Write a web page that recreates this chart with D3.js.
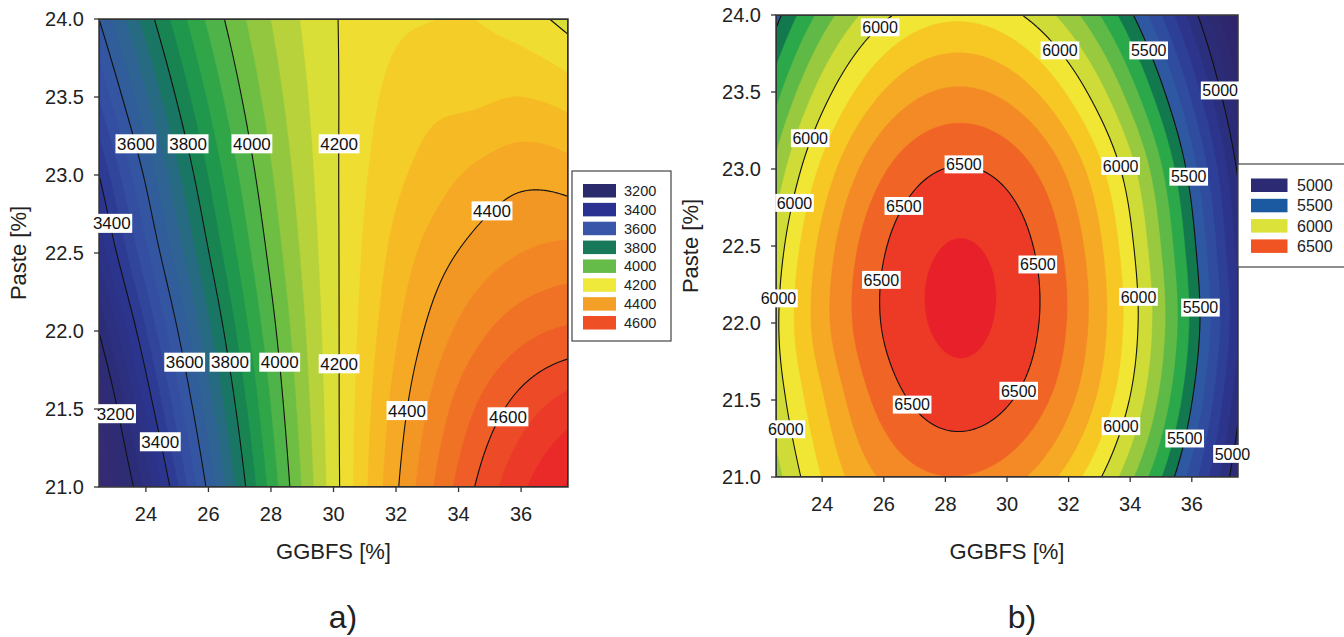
<!DOCTYPE html>
<html><head><meta charset="utf-8">
<script src="https://cdn.jsdelivr.net/npm/d3@7"></script>
<style>html,body{margin:0;padding:0;background:#fff;}svg{display:block;font-family:"Liberation Sans",Arial,Helvetica,sans-serif;}</style>
</head><body>
<svg id="chart" width="1344" height="637"></svg>
<script>
// ---------- data ----------
const ggbfs = [22.5, 24, 25.5, 27, 28.5, 30, 31.5, 33, 34.5, 36, 37.5];
const paste = [21, 21.5, 22, 22.5, 23, 23.5, 24];

// panel a) response, rows = paste (21 -> 24), columns = ggbfs
const strengthA = [
  [3030, 3265, 3530, 3771, 3986, 4177, 4342, 4483, 4599, 4690, 4756],
  [3094, 3358, 3600, 3817, 4011, 4181, 4327, 4450, 4549, 4624, 4676],
  [3202, 3447, 3668, 3864, 4036, 4184, 4307, 4407, 4481, 4532, 4558],
  [3313, 3537, 3737, 3911, 4062, 4187, 4288, 4365, 4417, 4450, 4465],
  [3400, 3611, 3796, 3953, 4085, 4190, 4268, 4320, 4360, 4385, 4375],
  [3503, 3693, 3857, 3995, 4107, 4192, 4251, 4284, 4290, 4300, 4280],
  [3600, 3772, 3917, 4036, 4128, 4195, 4234, 4248, 4250, 4225, 4180]
];
// panel b) response
const strengthB = [
  [5860, 6104, 6276, 6373, 6397, 6345, 6216, 6011, 5718, 5353, 4912],
  [5945, 6188, 6391, 6512, 6553, 6511, 6386, 6178, 5887, 5505, 5030],
  [5981, 6260, 6460, 6580, 6620, 6578, 6452, 6241, 5947, 5575, 5110],
  [5940, 6231, 6440, 6564, 6606, 6563, 6433, 6217, 5915, 5537, 5067],
  [5829, 6125, 6337, 6464, 6506, 6464, 6337, 6125, 5829, 5448, 4983],
  [5662, 5949, 6154, 6276, 6315, 6271, 6145, 5936, 5644, 5274, 4820],
  [5464, 5737, 5930, 6044, 6078, 6032, 5907, 5702, 5417, 5053, 4609]
];

const levelsA = [3200, 3400, 3600, 3800, 4000, 4200, 4400, 4600];
const levelsB = [5000, 5500, 6000, 6500];
const xTicks = [24, 26, 28, 30, 32, 34, 36];
const yTicks = [21, 21.5, 22, 22.5, 23, 23.5, 24];

// contour label anchors: [level, ggbfs, paste]
const labelsA = [
  [3600, 23.68, 23.2], [3800, 25.35, 23.2], [4000, 27.39, 23.2], [4200, 30.18, 23.2],
  [3400, 22.91, 22.69], [4400, 35.07, 22.77],
  [3600, 25.24, 21.8], [3800, 26.69, 21.8], [4000, 28.28, 21.8], [4200, 30.18, 21.79],
  [3200, 23.03, 21.47], [3400, 24.46, 21.29], [4400, 32.35, 21.49], [4600, 35.58, 21.45]
];
const labelsB = [
  [6000, 25.88, 23.92], [6000, 31.72, 23.77], [5500, 34.6, 23.77], [5000, 36.92, 23.51],
  [6000, 23.61, 23.2], [6500, 28.6, 23.03], [6000, 33.69, 23.02], [5500, 35.9, 22.95],
  [6000, 23.1, 22.78], [6500, 26.65, 22.76], [6500, 31.0, 22.38], [6500, 25.92, 22.28],
  [6000, 22.58, 22.16], [6000, 34.27, 22.17], [5500, 36.28, 22.1],
  [6500, 30.38, 21.56], [6500, 26.92, 21.47], [6000, 22.82, 21.31], [6000, 33.7, 21.33],
  [5500, 35.77, 21.25], [5000, 37.32, 21.15]
];

// ---------- styles ----------
const rampA = {
  v: [3000, 3200, 3400, 3550, 3700, 3800, 3900, 4000, 4100, 4200, 4300, 4400, 4500, 4600, 4750],
  c: ["#3a2a72", "#2c2c74", "#2c3690", "#3653a5", "#2c6690", "#147b55", "#22a04a", "#5cb947",
      "#a5cb3c", "#ece635", "#f6c424", "#f4a024", "#f17d25", "#ee5326", "#e8222a"]
};
const rampB = {
  v: [4600, 5000, 5200, 5400, 5500, 5550, 5650, 5750, 5850, 5950, 6050, 6150, 6250, 6350, 6450, 6550, 6650],
  c: ["#2f2468", "#2b2d78", "#2c3891", "#3052a3", "#2d5ea0", "#12794f", "#2aa84a", "#5fb947", "#99c93e",
      "#cfdc37", "#f1e633", "#f7c824", "#f5a924", "#f38a25", "#f06526", "#ec3a27", "#e8202a"]
};
const legendColA = ["#2a2a6c", "#2b3190", "#3a56a8", "#17785a", "#65bc48", "#eee93a", "#f4a026", "#ef4f24"];
const legendColB = ["#2b2a72", "#1b5aa0", "#dbe33b", "#f05423"];

const svg = d3.select("#chart");
svg.append("rect").attr("width", 1344).attr("height", 637).attr("fill", "#fff");

// Catmull-Rom bicubic smoothing of the read grid for display
function padGrid(g) {
  const pr = g.map(r => { const n = r.length; return [3*r[0]-3*r[1]+r[2], ...r, 3*r[n-1]-3*r[n-2]+r[n-3]]; });
  const m = pr.length;
  const top = pr[0].map((_, i) => 3*pr[0][i]-3*pr[1][i]+pr[2][i]);
  const bot = pr[0].map((_, i) => 3*pr[m-1][i]-3*pr[m-2][i]+pr[m-3][i]);
  return [top, ...pr, bot];
}
function cr(p0, p1, p2, p3, t) {
  return p1 + 0.5*t*(p2-p0 + t*(2*p0-5*p1+4*p2-p3 + t*(3*(p1-p2)+p3-p0)));
}
function sampler(grid) {
  const P = padGrid(grid), nx = grid[0].length, ny = grid.length;
  return function(fx, fy) {
    const i = Math.max(0, Math.min(Math.floor(fx), nx-2)), j = Math.max(0, Math.min(Math.floor(fy), ny-2));
    const tx = fx - i, ty = fy - j, rows = [];
    for (let k = 0; k < 4; k++) { const r = P[j+k]; rows.push(cr(r[i], r[i+1], r[i+2], r[i+3], tx)); }
    return cr(rows[0], rows[1], rows[2], rows[3], ty);
  };
}

function panel(o) {
  const W = o.x1 - o.x0, H = o.y1 - o.y0;
  const xs = d3.scaleLinear().domain([22.5, 37.5]).range([o.x0, o.x1]);
  const ys = d3.scaleLinear().domain([21, 24]).range([o.y1, o.y0]);
  const fxS = d3.scaleLinear().domain([ggbfs[0], ggbfs[ggbfs.length-1]]).range([0, ggbfs.length-1]);
  const fyS = d3.scaleLinear().domain([paste[0], paste[paste.length-1]]).range([0, paste.length-1]);
  const f = sampler(o.grid);
  const n = Math.round(W/1.5), m = Math.round(H/1.5);
  const vals = new Float64Array(n*m);
  for (let r = 0; r < m; r++) {
    const yv = ys.invert(o.y0 + (r+0.5)*H/m);
    for (let c = 0; c < n; c++) {
      const xv = xs.invert(o.x0 + (c+0.5)*W/n);
      vals[r*n+c] = f(fxS(xv), fyS(yv));
    }
  }
  const color = d3.scaleLinear().domain(o.ramp.v).range(o.ramp.c).interpolate(d3.interpolateRgb).clamp(true);
  const proj = d3.geoTransform({ point(x, y) { this.stream.point(o.x0 + x*W/n, o.y0 + y*H/m); } });
  const path = d3.geoPath(proj);
  const clipId = "clip" + o.id;
  svg.append("clipPath").attr("id", clipId).append("rect").attr("x", o.x0).attr("y", o.y0).attr("width", W).attr("height", H);
  const g = svg.append("g").attr("clip-path", `url(#${clipId})`);
  const thr = d3.range(o.lo, o.hi + 1, o.step);
  g.append("rect").attr("x", o.x0).attr("y", o.y0).attr("width", W).attr("height", H)
    .attr("fill", color(o.lo - o.step/2));
  const bands = d3.contours().size([n, m]).thresholds(thr)(vals);
  g.selectAll("path.band").data(bands).join("path").attr("class", "band")
    .attr("d", path).attr("fill", d => color(d.value + o.step/2)).attr("stroke", d => color(d.value + o.step/2)).attr("stroke-width", 0.4);
  const lines = d3.contours().size([n, m]).thresholds(o.levels)(vals);
  g.selectAll("path.iso").data(lines).join("path").attr("class", "iso")
    .attr("d", path).attr("fill", "none").attr("stroke", "#111").attr("stroke-width", 1.1);
  // frame
  svg.append("rect").attr("x", o.x0).attr("y", o.y0).attr("width", W).attr("height", H)
    .attr("fill", "none").attr("stroke", "#3a3a3a").attr("stroke-width", 1.5);
  // contour labels
  const lg = svg.append("g");
  o.labels.forEach(([v, x, y]) => {
    const t = lg.append("text").attr("x", xs(x)).attr("y", ys(y)).attr("dy", "0.36em")
      .attr("text-anchor", "middle").attr("font-size", o.lblSize).attr("fill", "#111").text(v);
    const w = t.node().getComputedTextLength();
    lg.insert("rect", "text").attr("x", xs(x) - w/2 - 1.5).attr("y", ys(y) - o.lblSize*0.56)
      .attr("width", w + 3).attr("height", o.lblSize*1.12).attr("fill", "#fff");
  });
  // axes
  const ax = svg.append("g");
  xTicks.forEach(v => {
    ax.append("line").attr("x1", xs(v)).attr("x2", xs(v)).attr("y1", o.y1).attr("y2", o.y1 + 5).attr("stroke", "#333").attr("stroke-width", 1.3);
    ax.append("text").attr("x", xs(v)).attr("y", o.y1 + 34).attr("text-anchor", "middle").attr("font-size", 20).attr("fill", "#222").text(v);
  });
  yTicks.forEach(v => {
    ax.append("line").attr("x1", o.x0 - 5).attr("x2", o.x0).attr("y1", ys(v)).attr("y2", ys(v)).attr("stroke", "#333").attr("stroke-width", 1.3);
    ax.append("text").attr("x", o.x0 - 15).attr("y", ys(v)).attr("dy", "0.36em").attr("text-anchor", "end").attr("font-size", 20).attr("fill", "#222").text(d3.format(".1f")(v));
  });
  ax.append("text").attr("x", (o.x0 + o.x1)/2).attr("y", 559).attr("text-anchor", "middle").attr("font-size", 22).attr("fill", "#222").text("GGBFS [%]");
  ax.append("text").attr("transform", `translate(${o.ytx},${(o.y0 + o.y1)/2}) rotate(-90)`).attr("text-anchor", "middle").attr("font-size", 22).attr("fill", "#222").text("Paste [%]");
  ax.append("text").attr("x", o.capX).attr("y", 628).attr("text-anchor", "middle").attr("font-size", 32).attr("fill", "#222").text(o.caption);
  // legend
  const L = o.legend;
  const leg = svg.append("g");
  leg.append("rect").attr("x", L.x).attr("y", L.y).attr("width", L.w).attr("height", L.h).attr("fill", "#fff").attr("stroke", "#444").attr("stroke-width", 1.2);
  o.levels.forEach((v, i) => {
    const yy = L.sy + i*L.dy;
    leg.append("rect").attr("x", L.sx).attr("y", yy).attr("width", L.sw).attr("height", L.sh).attr("fill", o.legendCol[i]);
    leg.append("text").attr("x", L.tx).attr("y", yy + L.sh/2).attr("dy", "0.36em").attr("font-size", L.fs).attr("fill", "#222").text(v);
  });
}

panel({ id: "a", x0: 99, x1: 568, y0: 19, y1: 487, grid: strengthA, ramp: rampA, lo: 2950, hi: 4800, step: 50,
  levels: levelsA, labels: labelsA, lblSize: 17, ytx: 26, capX: 343, caption: "a)", legendCol: legendColA,
  legend: { x: 572, y: 171, w: 99, h: 170, sx: 583, sy: 184, sw: 33, sh: 13.5, dy: 18.86, tx: 624, fs: 14.5 } });
panel({ id: "b", x0: 776, x1: 1238, y0: 15, y1: 477, grid: strengthB, ramp: rampB, lo: 4500, hi: 6700, step: 100,
  levels: levelsB, labels: labelsB, lblSize: 16, ytx: 698, capX: 1022, caption: "b)", legendCol: legendColB,
  legend: { x: 1238, y: 164, w: 130, h: 103, sx: 1251, sy: 178.5, sw: 36.5, sh: 13.5, dy: 20.3, tx: 1297, fs: 16 } });
</script>
</body></html>
